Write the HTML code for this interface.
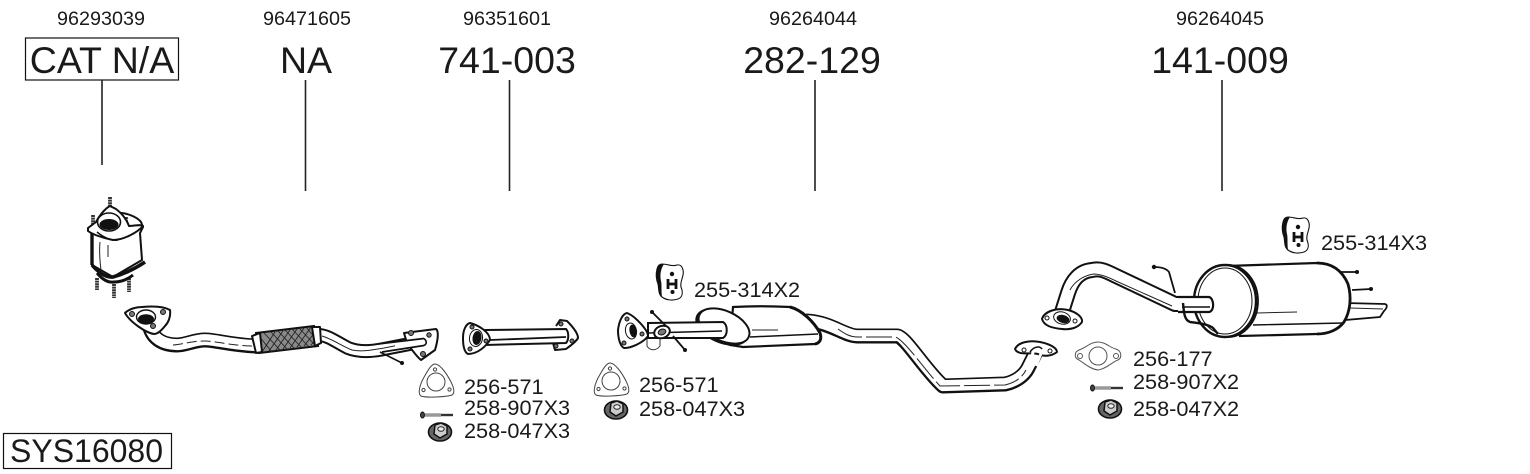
<!DOCTYPE html>
<html><head><meta charset="utf-8"><style>
html,body{margin:0;padding:0;background:#fff}
svg{display:block}
text{font-family:"Liberation Sans",sans-serif;fill:#1a1a1a}
.s{font-size:19.8px;text-anchor:middle}
.b{font-size:37.5px;text-anchor:middle}
.p{font-size:21.7px}
.k{fill:none;stroke:#111;stroke-linecap:butt;stroke-linejoin:round}
.w{fill:none;stroke:#fff;stroke-linejoin:round}
.l{fill:none;stroke:#222;stroke-width:1}
.f{fill:#fff;stroke:#111;stroke-width:2;stroke-linejoin:round}
</style></head><body>
<svg width="1530" height="474" viewBox="0 0 1530 474" xmlns="http://www.w3.org/2000/svg">
<defs>
<g id="hanger">
<path d="M-8,-18C-2,-18 2,-15 7,-17C12,-18 14,-12 13,-7C12,-2 10,1 11,5C13,10 13,15 8,17C2,19 -4,18 -8,15C-12,12 -11,6 -12,2C-14,-3 -14,-9 -13,-13C-12,-17 -10,-18 -8,-18Z" fill="#fff" stroke="#111" stroke-width="1.1"/>
<path d="M-8,-18C-11,-18 -12,-17 -13,-13C-14,-9 -14,-3 -12,2C-11,6 -12,12 -8,15C-9,8 -8,3 -9,-1C-10,-6 -10,-12 -6,-18Z" fill="#111"/>
<circle cx="2" cy="-8" r="2.200" fill="#111"/><circle cx="2.500" cy="10" r="2" fill="#111"/>
<path d="M-2,-3V7M6,-3V7M-2,2H6" stroke="#111" stroke-width="2.800" fill="none"/>
</g>
<g id="nut">
<ellipse cx="-1" cy="1" rx="11.500" ry="9" fill="#666" stroke="#111" stroke-width="1.600"/>
<path d="M-6,-6L0,-8L6,-5L6,3L-1,7L-7,3Z" fill="#ccc" stroke="#111" stroke-width="1.500"/>
<ellipse cx="0" cy="-2" rx="3.200" ry="2.300" fill="#eee" stroke="#222" stroke-width="1"/>
</g>
<g id="bolt">
<ellipse cx="1.500" cy="0" rx="2" ry="3" fill="#444" stroke="#111"/>
<path d="M3,-.9H20" stroke="#333" stroke-width=".9"/><path d="M3,.9H20" stroke="#333" stroke-width=".9"/>
<path d="M20,0H32" stroke="#333" stroke-width="2.400"/>
</g>
<g id="tri">
<path d="M-1,-18C4,-18 11,-8 15,0C18,6 19,11 16,13C10,15 -10,16 -15,14C-18,12 -17,5 -13,-3C-9,-10 -5,-18 -1,-18Z" fill="#fff" stroke="#444" stroke-width="1"/>
<circle cx="0" cy="0" r="9" fill="#fff" stroke="#444"/>
<circle cx="-1" cy="-12.500" r="1.600" fill="#fff" stroke="#444"/><circle cx="13.500" cy="7.500" r="1.600" fill="#fff" stroke="#444"/><circle cx="-12.500" cy="8" r="1.600" fill="#fff" stroke="#444"/>
</g>
</defs>

<!-- part numbers -->
<text class="s" x="101" y="25">96293039</text>
<text class="s" x="307" y="25">96471605</text>
<text class="s" x="507" y="25">96351601</text>
<text class="s" x="813" y="25">96264044</text>
<text class="s" x="1220" y="25">96264045</text>
<rect x="25.500" y="38" width="153" height="42" fill="none" stroke="#111" stroke-width="1.200"/>
<text class="b" x="102" y="73">CAT N/A</text>
<text class="b" x="306" y="73">NA</text>
<text class="b" x="507" y="73">741-003</text>
<text class="b" x="812" y="73">282-129</text>
<text class="b" x="1220" y="73">141-009</text>
<g stroke="#222" stroke-width="1.600">
<path d="M102,80V165M305.500,80V191M509.500,80V191M815,80V191M1222,80V191"/>
</g>
<rect x="3.500" y="433.500" width="168" height="35" fill="none" stroke="#111" stroke-width="1.200"/>
<text x="10" y="462" style="font-size:32px">SYS16080</text>

<!-- catalytic converter -->
<g>
<path d="M97,278V290M114,284V298M129,278V292" stroke="#333" stroke-width="3.800" stroke-dasharray="2 .6"/>
<path d="M122,213C130,214 138,218 141,222L143,227L140,233L142,260L113,277L92,265V235L110,212Z" class="f"/>
<path d="M92,233V265" class="k" stroke-width="3.400"/>
<path d="M100,242C99,252 100,262 101,270" class="l"/>
<path d="M108,245V257" class="l" stroke-width="1.200"/>
<path d="M140,233L142,260" class="k" stroke-width="1.500"/>
<path d="M92,265C98,272 106,278 113,277C124,274 136,268 145,262" class="k" stroke-width="3.600"/>
<path d="M97,273C102,279 108,283 114,282C122,282 128,279 133,275" class="k" stroke-width="3"/>
<path d="M110,197V211M93,215V230M126,217V232" stroke="#333" stroke-width="3.800" stroke-dasharray="2 .6"/>
<path d="M110,206C104,209 98,218 96,222L88,228V231C92,234 102,238 113,240C124,240 138,232 143,226C140,224 134,226 129,226C126,218 120,212 116,209Z" class="f" stroke-width="2.800"/>
<path d="M97,232C104,238 112,241 118,240" class="k" stroke-width="1.500"/>
<ellipse cx="109" cy="222" rx="11.500" ry="9" fill="#fff" stroke="#111" stroke-width="1.600"/>
<ellipse cx="109" cy="224.500" rx="9.500" ry="5.500" fill="#111"/>
</g>

<!-- front pipe -->
<g>
<path d="M150,328C153,338 162,345 177,345C186,345 194,340 205,340C216,340 230,345 256,346" class="k" stroke-width="15"/>
<path d="M150,328C153,338 162,345 177,345C186,345 194,340 205,340C216,340 230,345 256,346" class="w" stroke-width="11" transform="translate(0,-.4)"/>
<path d="M173,345C184,344 192,341 205,341C216,341 226,345 252,346" class="l" stroke-dasharray="10 4"/>
<path d="M318,335C328,335 336,342 348,348C358,352 370,352 384,349L425,341" class="k" stroke-width="14"/>
<path d="M318,335C328,335 336,342 348,348C358,352 370,352 384,349L425,341" class="w" stroke-width="10"/>
<path d="M322,336C332,339 342,346 352,350C362,352 372,350 384,348L420,341" class="l"/>
<path d="M404,333L436,329C439,331 438,340 435,350L421,360C416,356 412,350 407,343Z" class="f" stroke-width="2.800"/>
<path d="M395,343L424,339V345L395,350" fill="#fff"/>
<path d="M378,344L424,338.500M382,352L424,345.500" class="k" stroke-width="1.800"/>
<path d="M424,338.500C427,341 427,344 424,345.500" class="k" stroke-width="1.600"/>
<circle cx="411" cy="333" r="2.500" fill="#777" stroke="#111"/><circle cx="429" cy="335" r="2.200" fill="#777" stroke="#111"/><circle cx="423" cy="354" r="2.500" fill="#777" stroke="#111"/>
<path d="M380,352L402,363" stroke="#111" stroke-width="1.600"/><circle cx="402" cy="363" r="2" fill="#111"/>
<path d="M256,333L314,326L318,346L259,353Z" fill="#8a8a8a" stroke="#111" stroke-width="2"/>
<g stroke="#222" stroke-width=".9">
<path d="M258,335L272,352M264,333L281,351M271,332L288,350M278,331L295,349M285,330L302,348M292,329L309,347M299,328L315,345M306,327L316,339"/>
<path d="M262,352L275,332M269,351L283,331M276,350L290,330M283,349L297,329M290,348L304,328M297,347L311,327M304,346L316,331M311,345L318,337"/>
</g>
<path d="M252,336L260,333L262,352L256,353Z" class="f"/>
<path d="M312,327L320,327L321,343L315,346Z" class="f"/>
<path d="M125,313C129,309 136,307 142,307C152,306 163,306 170,310C171,317 168,323 165,326C161,331 157,334 154,334C146,333 130,322 125,313Z" class="f" stroke-width="3"/>
<ellipse cx="146" cy="317" rx="9.500" ry="7" fill="#fff" stroke="#111" stroke-width="1.400"/>
<ellipse cx="146" cy="319" rx="8" ry="4.800" fill="#111"/>
<circle cx="132" cy="314" r="2.500" fill="#777" stroke="#111"/><circle cx="163" cy="312" r="2.500" fill="#777" stroke="#111"/><circle cx="153" cy="326" r="2.500" fill="#777" stroke="#111"/>
</g>

<!-- 741-003 -->
<g>
<path d="M556,326L560,320L567,321C572,326 578,333 578,338C576,342 570,346 566,349L555,350L553,343" class="f" stroke-width="2.400"/>
<circle cx="561" cy="324" r="2" fill="#777" stroke="#111"/><circle cx="572" cy="341" r="2" fill="#777" stroke="#111"/><circle cx="556" cy="346" r="2" fill="#777" stroke="#111"/>
<path d="M485,330L566,329C569,332 569,340 566,343L485,345Z" fill="#fff" stroke="#111" stroke-width="2"/>
<path d="M490,340L566,337" class="k" stroke-width="1.800"/>
<path d="M470,323C478,325 490,332 490,340C486,346 478,354 468,354C464,352 463,344 463,338C463,330 466,324 470,323Z" class="f" stroke-width="2.600"/>
<ellipse cx="476" cy="338" rx="6.500" ry="8.500" fill="#fff" stroke="#111" transform="rotate(8 476 338)"/>
<ellipse cx="477" cy="338" rx="4.500" ry="7" fill="#111" transform="rotate(8 477 338)"/>
<circle cx="472" cy="327" r="2" fill="#777" stroke="#111"/><circle cx="486" cy="341" r="2" fill="#777" stroke="#111"/><circle cx="470" cy="349" r="2" fill="#777" stroke="#111"/>
</g>

<!-- 282-129 -->
<g>
<path d="M806,321C830,322 845,336 857,336H897C905,336 925,370 943,386L1005,384C1015,382 1024,376 1028,368L1037,350" class="k" stroke-width="15"/>
<path d="M806,321C830,322 845,336 857,336H897C905,336 925,370 943,386L1005,384C1015,382 1024,376 1028,368L1037,350" class="w" stroke-width="11" transform="translate(0,-.4)"/>
<path d="M838,329C845,334 850,337 858,337H895C903,338 925,370 940,386L1005,385C1014,383 1022,378 1026,370" class="l" stroke-dasharray="26 4"/>
<path d="M1015,349C1018,342 1030,340 1040,342C1050,344 1057,348 1057,352C1052,356 1044,357 1038,354C1030,352 1018,356 1015,349Z" class="f" stroke-width="2.400"/>
<path d="M1028,366L1034,350C1038,346 1042,348 1042,351L1036,366" class="w" stroke-width="3"/>
<path d="M1030,352C1034,346 1040,346 1042,349" class="k" stroke-width="1.600"/>
<circle cx="1024" cy="350" r="2" fill="#fff" stroke="#111"/><circle cx="1050" cy="351" r="2" fill="#fff" stroke="#111"/>
<path d="M733,307C750,306 770,306 790,307C802,310 814,322 820,333C822,339 820,343 815,344L743,347L730,345Z" fill="#fff" stroke="#111" stroke-width="2.200"/>
<path d="M790,307C802,310 814,322 820,333C822,339 820,343 815,344" class="k" stroke-width="3"/>
<path d="M750,337L818,334" class="k" stroke-width="1.500"/>
<path d="M752,330L778,330" class="l"/>
<ellipse cx="722" cy="327" rx="27" ry="15" fill="#fff" stroke="#111" stroke-width="2.400" transform="rotate(24 722 327)"/>
<ellipse cx="724" cy="326" rx="27" ry="15" fill="#fff" stroke="#111" stroke-width="2" transform="rotate(24 724 326)"/>
<path d="M647,338H660V346C656,351 650,351 647,346Z" fill="#fff" stroke="#333" stroke-width="1"/>
<path d="M648,323L723,322C728,325 728,335 723,338L648,338Z" fill="#fff" stroke="#111" stroke-width="2"/>
<path d="M648,333L722,331" class="k" stroke-width="1.400"/>
<path d="M652,312L667,327M673,336L685,350" stroke="#111" stroke-width="1.800"/><circle cx="652" cy="312" r="2" fill="#111"/><circle cx="685" cy="350" r="2" fill="#111"/>
<ellipse cx="662" cy="332" rx="8" ry="6" fill="#fff" stroke="#111" stroke-width="2" transform="rotate(-20 662 332)"/>
<ellipse cx="662" cy="332" rx="4" ry="2.800" fill="#777" stroke="#111" transform="rotate(-20 662 332)"/>
<path d="M627,313C635,316 648,330 648,336C644,342 632,348 624,348C620,346 618,338 618,330C619,322 622,314 627,313Z" class="f" stroke-width="2.600"/>
<ellipse cx="631" cy="331" rx="5.500" ry="8" fill="#fff" stroke="#111" transform="rotate(-10 631 331)"/>
<ellipse cx="633" cy="331" rx="3.500" ry="6.500" fill="#111" transform="rotate(-10 633 331)"/>
<circle cx="627" cy="319" r="2" fill="#777" stroke="#111"/><circle cx="642" cy="334" r="2" fill="#777" stroke="#111"/><circle cx="624" cy="343" r="2" fill="#777" stroke="#111"/>
</g>

<!-- 141-009 -->
<g>
<path d="M1062,312L1068,293C1072,280 1080,271 1092,270C1100,268 1106,271 1116,276L1175,304H1210" class="k" stroke-width="16"/>
<path d="M1062,312L1068,293C1072,280 1080,271 1092,270C1100,268 1106,271 1116,276L1175,304H1210" class="w" stroke-width="12"/>
<path d="M1070,290C1074,282 1084,275 1094,274C1100,274 1106,276 1116,281L1172,306" class="l"/>
<path d="M1154,267C1160,267 1166,268 1169,272L1175,293" class="k" stroke-width="1.800"/><circle cx="1154" cy="267" r="2.200" fill="#111"/>
<path d="M1340,272H1357M1352,290L1371,289" stroke="#111" stroke-width="1.800"/><circle cx="1357" cy="272" r="2" fill="#111"/><circle cx="1371" cy="289" r="2" fill="#111"/>
<path d="M1345,303L1385,304C1388,305 1387,308 1384,311L1380,317L1345,320Z" fill="#fff" stroke="#111" stroke-width="1.800"/>
<path d="M1350,308L1383,309" class="l"/>
<path d="M1227,266L1317,263C1332,263 1342,270 1348,284C1352,298 1350,312 1344,322C1338,330 1328,334 1317,334L1240,336Z" fill="#fff" stroke="#111" stroke-width="2.200"/>
<path d="M1317,263C1332,263 1342,270 1348,284C1352,298 1350,312 1344,322C1338,330 1328,334 1317,334" class="k" stroke-width="2.800"/>
<path d="M1253,325L1343,323" class="k" stroke-width="1.400"/>
<path d="M1257,313L1297,312" class="l" stroke-width="1.200"/>
<ellipse cx="1228" cy="301" rx="30" ry="36" fill="#fff" stroke="#111" stroke-width="1.800"/>
<ellipse cx="1225" cy="301" rx="31" ry="36" fill="#fff" stroke="#111" stroke-width="2.400"/>
<ellipse cx="1225" cy="301" rx="27" ry="33" fill="#fff" stroke="#111" stroke-width="1"/>
<path d="M1178,297H1209C1214,298 1215,311 1209,312H1178" fill="#fff" stroke="#111" stroke-width="2.200"/>
<path d="M1182,307H1210" class="k" stroke-width="1.400"/>
<path d="M1183,303C1184,312 1184,320 1190,322C1198,323 1208,324 1213,328L1218,334" class="k" stroke-width="2.400"/>
<path d="M1042,319C1044,312 1056,307 1068,310C1076,312 1083,317 1082,322C1078,328 1070,330 1062,329C1052,328 1044,326 1042,319Z" class="f" stroke-width="2.600"/>
<ellipse cx="1062" cy="318" rx="8.500" ry="6" fill="#fff" stroke="#111" transform="rotate(15 1062 318)"/>
<ellipse cx="1063" cy="319" rx="6.500" ry="4" fill="#111" transform="rotate(15 1063 319)"/>
<circle cx="1047" cy="318" r="2" fill="#fff" stroke="#111"/><circle cx="1075" cy="321" r="2" fill="#fff" stroke="#111"/>
</g>

<!-- small parts -->
<use href="#hanger" x="670" y="282"/>
<use href="#hanger" x="1296" y="235"/>
<text class="p" x="694" y="297">255-314X2</text>
<text class="p" x="1321" y="250">255-314X3</text>

<use href="#tri" x="436" y="382"/>
<use href="#bolt" x="421" y="415"/>
<use href="#nut" x="441" y="431"/>
<text class="p" x="464" y="394">256-571</text>
<text class="p" x="464" y="415">258-907X3</text>
<text class="p" x="464" y="438">258-047X3</text>

<use href="#tri" x="611" y="381"/>
<use href="#nut" x="617" y="409"/>
<text class="p" x="639" y="392">256-571</text>
<text class="p" x="639" y="416">258-047X3</text>

<path d="M1098,342C1106,342 1110,348 1116,349C1122,351 1122,358 1118,360C1112,362 1106,369 1098,370C1090,369 1084,363 1079,360C1074,358 1074,352 1079,350C1086,348 1090,342 1098,342Z" fill="#fff" stroke="#555"/>
<circle cx="1098" cy="356" r="9" fill="#fff" stroke="#555"/>
<circle cx="1080" cy="356" r="2.500" fill="#fff" stroke="#555"/><circle cx="1116" cy="356" r="2.500" fill="#fff" stroke="#555"/>
<use href="#bolt" x="1091" y="388"/>
<use href="#nut" x="1111" y="408"/>
<text class="p" x="1133" y="366">256-177</text>
<text class="p" x="1133" y="389">258-907X2</text>
<text class="p" x="1133" y="416">258-047X2</text>
</svg>
</body></html>
